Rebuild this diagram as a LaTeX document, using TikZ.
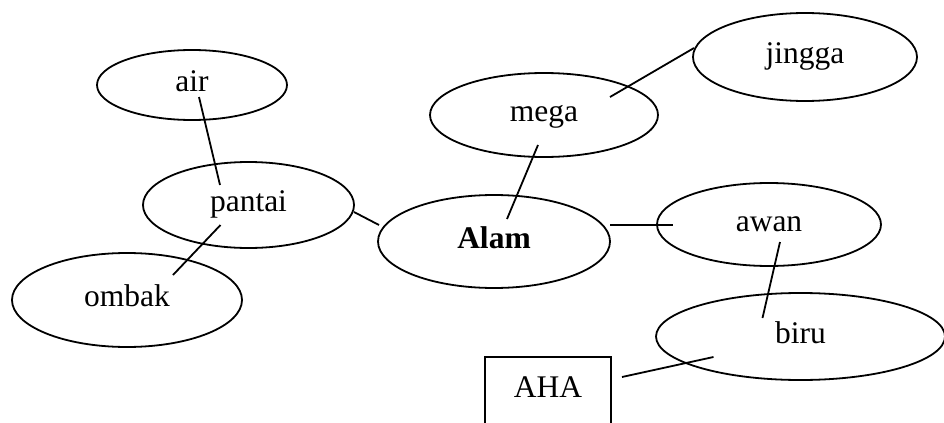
\documentclass[tikz,border=0pt]{standalone}
\usepackage{fontspec}
\setmainfont{Liberation Serif}
\usetikzlibrary{shapes.geometric,calc}
\begin{document}
\begin{tikzpicture}[x=0.5pt,y=-0.5pt,
  oval/.style={ellipse, draw, line width=0.9pt, inner sep=0pt,
    text height=10.1pt, text depth=3.15pt, font=\fontsize{15.75pt}{19pt}\selectfont},
  conn/.style={line width=0.9pt},
  boxnode/.style={rectangle, draw, line width=0.9pt, inner sep=0pt,
    font=\fontsize{15.75pt}{19pt}\selectfont}]
\useasboundingbox (0,0) rectangle (944,423);
\clip (0,0) rectangle (944,423);
\node[oval, minimum width=95pt, minimum height=35pt] (air) at (192,85) {air};
\node[oval, minimum width=105.5pt, minimum height=43pt] (pantai) at (248.5,205) {pantai};
\node[oval, minimum width=115pt, minimum height=47pt] (ombak) at (127,300) {ombak};
\node[oval, minimum width=114pt, minimum height=42pt] (mega) at (544,115) {mega};
\node[oval, minimum width=112pt, minimum height=44pt] (jingga) at (805,57) {jingga};
\node[oval, minimum width=116pt, minimum height=46.5pt] (alam) at (494,241.5) {\textbf{Alam}};
\node[oval, minimum width=112pt, minimum height=41.5pt] (awan) at (769,224.5) {awan};
\node[oval, minimum width=144.5pt, minimum height=43.5pt] (biru) at (800.5,336.5) {biru};
\node[boxnode, minimum width=63pt, minimum height=42pt, text height=11pt, text depth=13pt] (aha) at (548,399) {AHA};
\draw[conn] ($(air)+(7,12)$) -- ($(pantai)+(-28.5,-20)$);
\draw[conn] ($(pantai)+(-28,20)$) -- ($(ombak)+(46,-25)$);
\draw[conn] ($(pantai)+(105.5,7)$) -- ($(alam)+(-115,-16.5)$);
\draw[conn] ($(alam)+(13,-22.5)$) -- ($(mega)+(-6,30)$);
\draw[conn] ($(mega)+(66,-18)$) -- ($(jingga)+(-111,-9)$);
\draw[conn] ($(alam)+(116,-16.5)$) -- ($(awan)+(-96,0.5)$);
\draw[conn] ($(awan)+(11,17.5)$) -- ($(biru)+(-38,-18.5)$);
\draw[conn] ($(biru)+(-87,20.5)$) -- ($(aha)+(74,-22)$);
\end{tikzpicture}
\end{document}
